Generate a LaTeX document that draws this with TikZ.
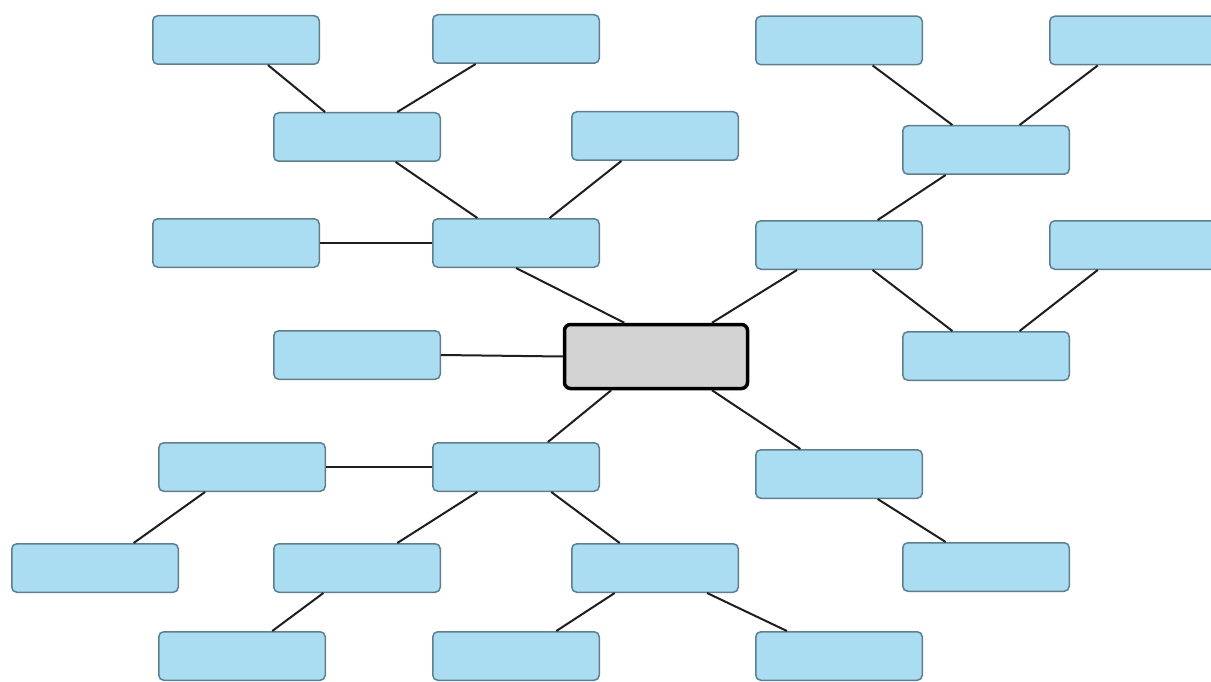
\documentclass[tikz,border=0pt]{standalone}
\usetikzlibrary{calc}
\definecolor{boxfill}{HTML}{AADDF2}
\definecolor{boxline}{HTML}{5E7F8E}
\definecolor{hubfill}{HTML}{D3D3D3}
\definecolor{linkcol}{HTML}{1E1E1E}
\tikzset{
  leaf/.style={draw=boxline, fill=boxfill, line width=1.5pt, rounded corners=5pt,
    minimum width=166.5pt, minimum height=48.5pt, inner sep=0pt},
  hub/.style={draw=black, fill=hubfill, line width=3.5pt, rounded corners=6pt,
    minimum width=183pt, minimum height=64pt, inner sep=0pt},
  conn/.style={draw=linkcol, line width=2pt}
}
\newcommand{\bpt}[3]{($(#1.#2 west)!#3!(#1.#2 east)$)}
\begin{document}
\begin{tikzpicture}[x=1pt,y=-1pt]
\useasboundingbox (0,0) rectangle (1211,682);
\clip (0,0) rectangle (1211,682);
\fill[white] (0,0) rectangle (1211,682);
% connectors first (behind boxes) -- drawn after nodes defined via on background trick: define nodes first
\node[leaf] (A) at (236,40) {};
\node[leaf] (B) at (516,39) {};
\node[leaf] (C) at (839,40.5) {};
\node[leaf] (D) at (1133,40.5) {};
\node[leaf] (E) at (357,137) {};
\node[leaf] (F) at (655,136) {};
\node[leaf] (G) at (986,150) {};
\node[leaf] (H) at (236,243) {};
\node[leaf] (I) at (516,243) {};
\node[leaf] (J) at (839,245) {};
\node[leaf] (K) at (1133,245) {};
\node[leaf] (L) at (357,355) {};
\node[hub]  (Z) at (656,356.5) {};
\node[leaf] (M) at (986,356) {};
\node[leaf] (N) at (242,467) {};
\node[leaf] (O) at (516,467) {};
\node[leaf] (P) at (839,474) {};
\node[leaf] (Q) at (95,568) {};
\node[leaf] (R) at (357,568) {};
\node[leaf] (S) at (655,568) {};
\node[leaf] (T) at (986,567) {};
\node[leaf] (U) at (242,656) {};
\node[leaf] (V) at (516,656) {};
\node[leaf] (W) at (839,656) {};
% connectors
\draw[conn] \bpt{A}{south}{.69} -- \bpt{E}{north}{.31};
\draw[conn] \bpt{B}{south}{.26} -- \bpt{E}{north}{.74};
\draw[conn] \bpt{E}{south}{.73} -- \bpt{I}{north}{.27};
\draw[conn] \bpt{F}{south}{.30} -- \bpt{I}{north}{.70};
\draw[conn] (H.east) -- (I.west);
\draw[conn] \bpt{I}{south}{.50} -- \bpt{Z}{north}{.33};
\draw[conn] \bpt{C}{south}{.70} -- \bpt{G}{north}{.30};
\draw[conn] \bpt{D}{south}{.29} -- \bpt{G}{north}{.70};
\draw[conn] \bpt{G}{south}{.26} -- \bpt{J}{north}{.73};
\draw[conn] \bpt{J}{south}{.25} -- \bpt{Z}{north}{.80};
\draw[conn] \bpt{J}{south}{.70} -- \bpt{M}{north}{.30};
\draw[conn] \bpt{K}{south}{.29} -- \bpt{M}{north}{.70};
\draw[conn] (L.east) -- (Z.west);
\draw[conn] \bpt{Z}{south}{.26} -- \bpt{O}{north}{.69};
\draw[conn] \bpt{Z}{south}{.80} -- \bpt{P}{north}{.27};
\draw[conn] (N.east) -- (O.west);
\draw[conn] \bpt{N}{south}{.28} -- \bpt{Q}{north}{.73};
\draw[conn] \bpt{O}{south}{.27} -- \bpt{R}{north}{.74};
\draw[conn] \bpt{O}{south}{.71} -- \bpt{S}{north}{.29};
\draw[conn] \bpt{P}{south}{.73} -- \bpt{T}{north}{.26};
\draw[conn] \bpt{R}{south}{.30} -- \bpt{U}{north}{.68};
\draw[conn] \bpt{S}{south}{.26} -- \bpt{V}{north}{.74};
\draw[conn] \bpt{S}{south}{.81} -- \bpt{W}{north}{.19};
\end{tikzpicture}
\end{document}
